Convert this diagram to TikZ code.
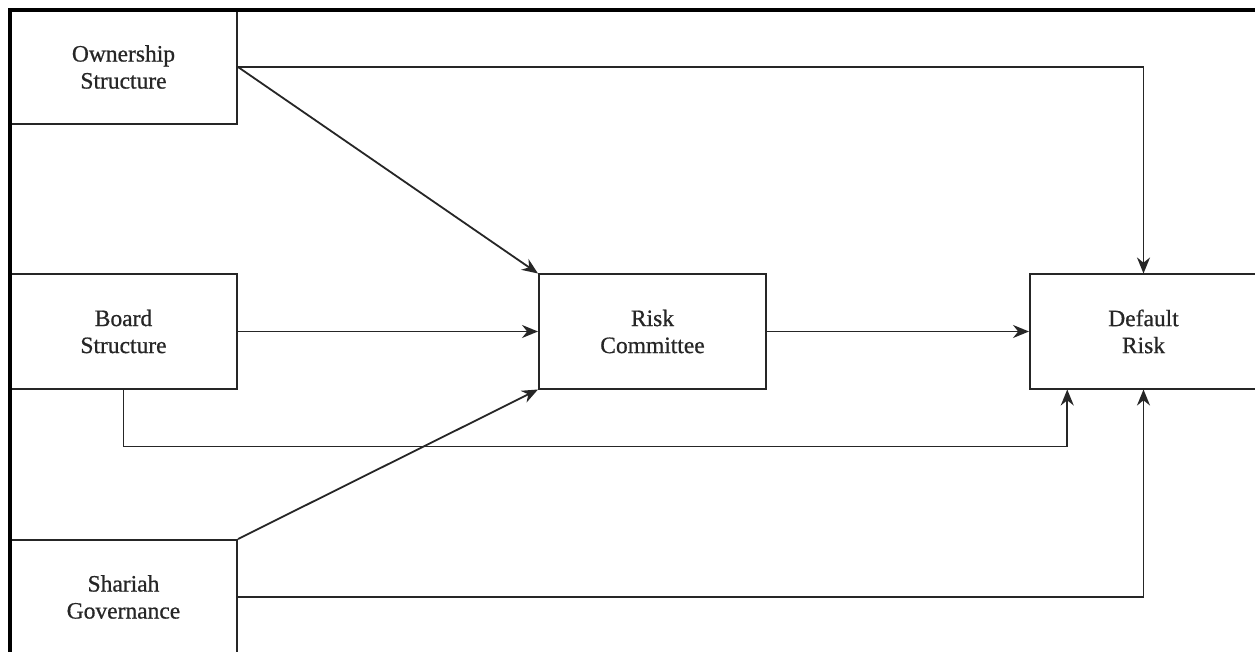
\documentclass[tikz,border=0pt]{standalone}
\usepackage{fontspec}
\setmainfont{Liberation Serif}
\usetikzlibrary{arrows.meta,calc}
\begin{document}
\begin{tikzpicture}[x=1pt,y=-1pt,
  box/.style={draw=black!85,line width=2pt,minimum width=227pt,minimum height=114pt,
    inner sep=0pt,align=center,font=\fontsize{23.5}{27}\selectfont\addfontfeature{FakeBold=0.7},text=black!85},
  conn/.style={draw=black!85,line width=1.8pt,-{Stealth[length=16pt,width=13pt]}}]
\clip (0,0) rectangle (1255,652);
\fill[white] (0,0) rectangle (1255,652);
\node[box] (os) at (123.5,67) {Ownership\\Structure};
\node[box] (bs) at (123.5,331.5) {Board\\Structure};
\node[box] (sg) at (123.5,597) {Shariah\\Governance};
\node[box] (rc) at (652.5,331.5) {Risk\\Committee};
\node[box] (dr) at (1143.5,331.5) {Default\\Risk};
\draw[line width=3.5pt] (10,652) -- (10,10) -- (1255,10);
\draw[conn] (os.east) -| (dr.north);
\draw[conn] (os.east) -- (rc.north west);
\draw[conn] (bs.east) -- (rc.west);
\coordinate (bsdown) at ($(bs.south)+(0,57)$);
\coordinate (drin) at ($(dr.south west)!0.167!(dr.south east)$);
\draw[conn] (bs.south) -- (bsdown) -| (drin);
\draw[conn] (sg.north east) -- (rc.south west);
\draw[conn] (sg.east) -| (dr.south);
\draw[conn] (rc.east) -- (dr.west);
\end{tikzpicture}
\end{document}
